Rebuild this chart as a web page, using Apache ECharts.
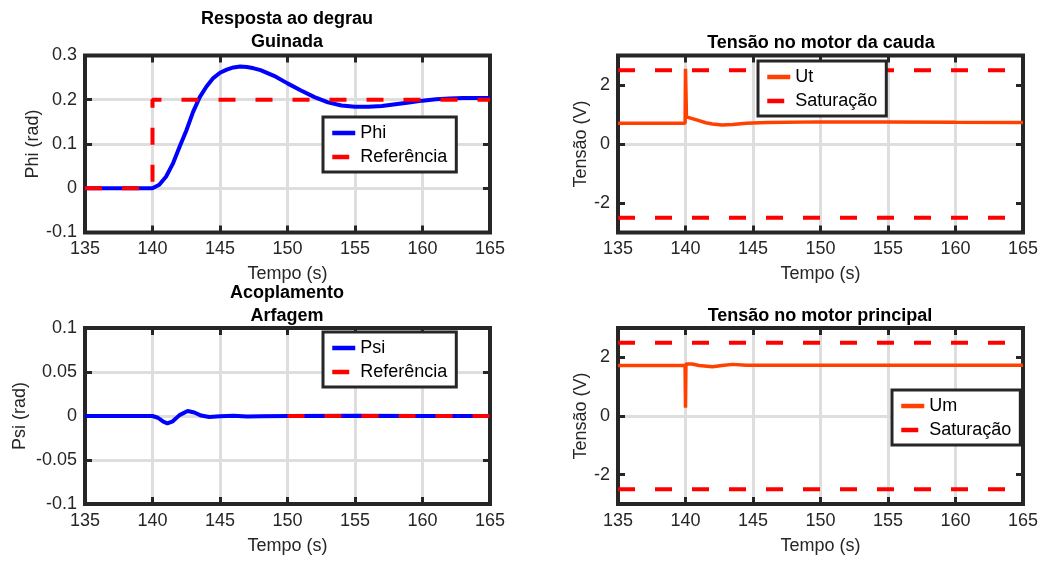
<!DOCTYPE html>
<html>
<head>
<meta charset="utf-8">
<script src="https://cdn.jsdelivr.net/npm/echarts@6/dist/echarts.min.js"></script>
<style>
html,body{margin:0;padding:0;background:#fff;}
#c{width:1045px;height:563px;}
</style>
</head>
<body>
<div id="c"></div>
<script>
// ---- data ----
const xTicks = [135, 140, 145, 150, 155, 160, 165];
const yTicksPhi = [-0.1, 0, 0.1, 0.2, 0.3];
const yTicksPsi = [-0.1, -0.05, 0, 0.05, 0.1];
const yTicksVolt = [-2, 0, 2];

const phiT = [135, 140, 140.5, 141, 141.5, 142, 142.5, 143, 143.5, 144, 144.5, 145, 145.5, 146, 146.5, 147, 147.5, 148, 149, 150, 151, 152, 153, 154, 155, 156, 157, 158, 159, 160, 161, 162, 163, 164, 165];
const phiV = [0, 0, 0.008, 0.026, 0.055, 0.093, 0.13, 0.172, 0.206, 0.23, 0.249, 0.261, 0.268, 0.273, 0.275, 0.274, 0.271, 0.267, 0.254, 0.237, 0.221, 0.206, 0.194, 0.187, 0.184, 0.184, 0.186, 0.19, 0.194, 0.198, 0.201, 0.203, 0.204, 0.204, 0.204];
const refPhiT = [135, 140, 140, 165];
const refPhiV = [0, 0, 0.2, 0.2];

const psiT = [135, 140, 140.4, 140.8, 141.1, 141.5, 142, 142.6, 143.1, 143.6, 144.2, 145, 146, 147, 148, 150, 155, 160, 165];
const psiV = [0, 0, -0.002, -0.0065, -0.0083, -0.006, 0.001, 0.0057, 0.004, 0.0005, -0.0012, -0.0003, 0.0002, -0.0006, -0.0004, 0, 0.0002, 0, 0];
const refPsiT = [150, 165];
const refPsiV = [0, 0];

const utT = [135, 139.97, 140, 140.07, 140.5, 141, 141.5, 142, 142.7, 143.5, 144.5, 146, 150, 155, 160, 165];
const utV = [0.70, 0.70, 2.55, 0.92, 0.86, 0.79, 0.72, 0.68, 0.645, 0.66, 0.70, 0.73, 0.75, 0.745, 0.735, 0.73];

const umT = [135, 139.97, 140, 140.03, 140.5, 141, 142, 142.7, 143.5, 144.5, 150, 160, 165];
const umV = [1.72, 1.72, 0.28, 1.77, 1.77, 1.72, 1.68, 1.72, 1.76, 1.73, 1.73, 1.73, 1.73];

const satT = [135, 165];
const satHi = [2.5, 2.5];
const satLo = [-2.5, -2.5];

function pairs(t, v) { return t.map((x, i) => [x, v[i]]); }

// ---- styles ----
const FONT = "'Liberation Sans', Arial, Helvetica, sans-serif";
const DARK = '#262626';
const GRIDC = '#dedede';
const BLUE = '#0000ff';
const RED = '#ff0000';
const ORANGE = '#ff4000';
const DASH = [17, 20];

const grids = [
  {left: 85, top: 55.5, width: 405, height: 177},
  {left: 618, top: 55.5, width: 405, height: 177},
  {left: 85, top: 328, width: 405, height: 176},
  {left: 618, top: 328, width: 405, height: 176}
].map(g => Object.assign({show: true, z: 3, borderColor: DARK, borderWidth: 4, backgroundColor: 'transparent'}, g));

const TICK = {show: true, inside: true, length: 7, lineStyle: {color: DARK, width: 3}};

function xMain(gi) {
  return {
    type: 'value', gridIndex: gi, position: 'bottom', min: 135, max: 165, interval: 5,
    name: 'Tempo (s)', nameLocation: 'middle', nameGap: 33,
    nameTextStyle: {fontSize: 18, color: DARK, fontFamily: FONT},
    axisLine: {show: false, onZero: false},
    axisTick: TICK,
    axisLabel: {fontSize: 18, color: DARK, margin: 8, fontFamily: FONT},
    splitLine: {show: true, showMinLine: false, showMaxLine: false, lineStyle: {color: GRIDC, width: 3}}
  };
}
function xTop(gi) {
  return {
    type: 'value', gridIndex: gi, position: 'top', min: 135, max: 165, interval: 5,
    axisLine: {show: false, onZero: false},
    axisTick: TICK,
    axisLabel: {show: false}, splitLine: {show: false}
  };
}
function yMain(gi, cfg) {
  const ax = {
    type: 'value', gridIndex: gi, position: 'left', min: cfg.min, max: cfg.max,
    name: cfg.name, nameLocation: 'middle', nameGap: cfg.gap,
    nameTextStyle: {fontSize: 18, color: DARK, fontFamily: FONT},
    axisLine: {show: false, onZero: false},
    axisTick: Object.assign({}, TICK),
    axisLabel: {fontSize: 18, color: DARK, margin: 8, fontFamily: FONT},
    splitLine: {show: true, showMinLine: false, showMaxLine: false, lineStyle: {color: GRIDC, width: 3}}
  };
  if (cfg.interval) ax.interval = cfg.interval;
  if (cfg.custom) { ax.axisTick.customValues = cfg.custom; ax.axisLabel.customValues = cfg.custom; }
  return ax;
}
function yRight(gi, cfg) {
  const ax = {
    type: 'value', gridIndex: gi, position: 'right', min: cfg.min, max: cfg.max,
    axisLine: {show: false, onZero: false},
    axisTick: Object.assign({}, TICK),
    axisLabel: {show: false}, splitLine: {show: false}
  };
  if (cfg.interval) ax.interval = cfg.interval;
  if (cfg.custom) { ax.axisTick.customValues = cfg.custom; ax.axisLabel = {show: false, customValues: cfg.custom}; }
  return ax;
}

const yCfg = [
  {min: -0.1, max: 0.3, interval: 0.1, name: 'Phi (rad)', gap: 42},
  {min: -3, max: 3, custom: yTicksVolt, name: 'Tensão (V)', gap: 27},
  {min: -0.1, max: 0.1, interval: 0.05, name: 'Psi (rad)', gap: 56},
  {min: -3, max: 3, custom: yTicksVolt, name: 'Tensão (V)', gap: 27}
];

function line(name, data, gi, color, dashed, width) {
  return {
    type: 'line', name: name, data: data, xAxisIndex: gi, yAxisIndex: gi,
    showSymbol: false, symbol: 'none', animation: false,
    lineStyle: {color: color, width: width || 3, type: dashed ? DASH : 'solid', cap: 'butt'},
    itemStyle: {color: color}
  };
}

function legend(left, top, names) {
  return {
    orient: 'vertical', left: left, top: top, padding: [7, 9, 6, 7],
    itemWidth: 23, itemHeight: 14, itemGap: 6,
    textStyle: {fontSize: 18, color: '#000', fontFamily: FONT},
    itemStyle: {color: 'rgba(0,0,0,0)', borderColor: 'rgba(0,0,0,0)', borderWidth: 0, opacity: 0},
    lineStyle: {width: 4.5, cap: 'butt'},
    borderColor: DARK, borderWidth: 3, backgroundColor: '#fff',
    data: names, selectedMode: false
  };
}

function title(text, cx, top) {
  return {
    text: text, left: cx, top: top, textAlign: 'center', padding: 0, itemGap: 0,
    textStyle: {fontSize: 18, fontWeight: 'bold', color: '#000', fontFamily: FONT, lineHeight: 23.5}
  };
}

const option = {
  animation: false,
  backgroundColor: '#fff',
  textStyle: {fontFamily: FONT},
  title: [
    title('Resposta ao degrau\nGuinada', 287, 7),
    title('Tensão no motor da cauda', 821, 31),
    title('Acoplamento\nArfagem', 287, 281),
    title('Tensão no motor principal', 820, 304)
  ],
  grid: grids,
  xAxis: [xMain(0), xMain(1), xMain(2), xMain(3), xTop(0), xTop(1), xTop(2), xTop(3)],
  yAxis: [yMain(0, yCfg[0]), yMain(1, yCfg[1]), yMain(2, yCfg[2]), yMain(3, yCfg[3]),
          yRight(0, yCfg[0]), yRight(1, yCfg[1]), yRight(2, yCfg[2]), yRight(3, yCfg[3])],
  legend: [
    legend(323, 117, ['Phi', 'Referência']),
    legend(758, 61, ['Ut', 'Saturação']),
    legend(323, 332, ['Psi', 'Referência']),
    legend(892, 390, ['Um', 'Saturação'])
  ],
  series: [
    line('Phi', pairs(phiT, phiV), 0, BLUE, false, 4),
    line('Referência', pairs(refPhiT, refPhiV), 0, RED, true, 4),
    line('Ut', pairs(utT, utV), 1, ORANGE, false, 3.5),
    line('Saturação', pairs(satT, satHi), 1, RED, true, 4),
    line('Saturação', pairs(satT, satLo), 1, RED, true, 4),
    line('Psi', pairs(psiT, psiV), 2, BLUE, false, 4),
    line('Referência', pairs(refPsiT, refPsiV), 2, RED, true, 4),
    line('Um', pairs(umT, umV), 3, ORANGE, false, 3.5),
    line('Saturação', pairs(satT, satHi), 3, RED, true, 4),
    line('Saturação', pairs(satT, satLo), 3, RED, true, 4)
  ]
};

const chart = echarts.init(document.getElementById('c'), null, {renderer: 'canvas'});
chart.setOption(option);
</script>
</body>
</html>
